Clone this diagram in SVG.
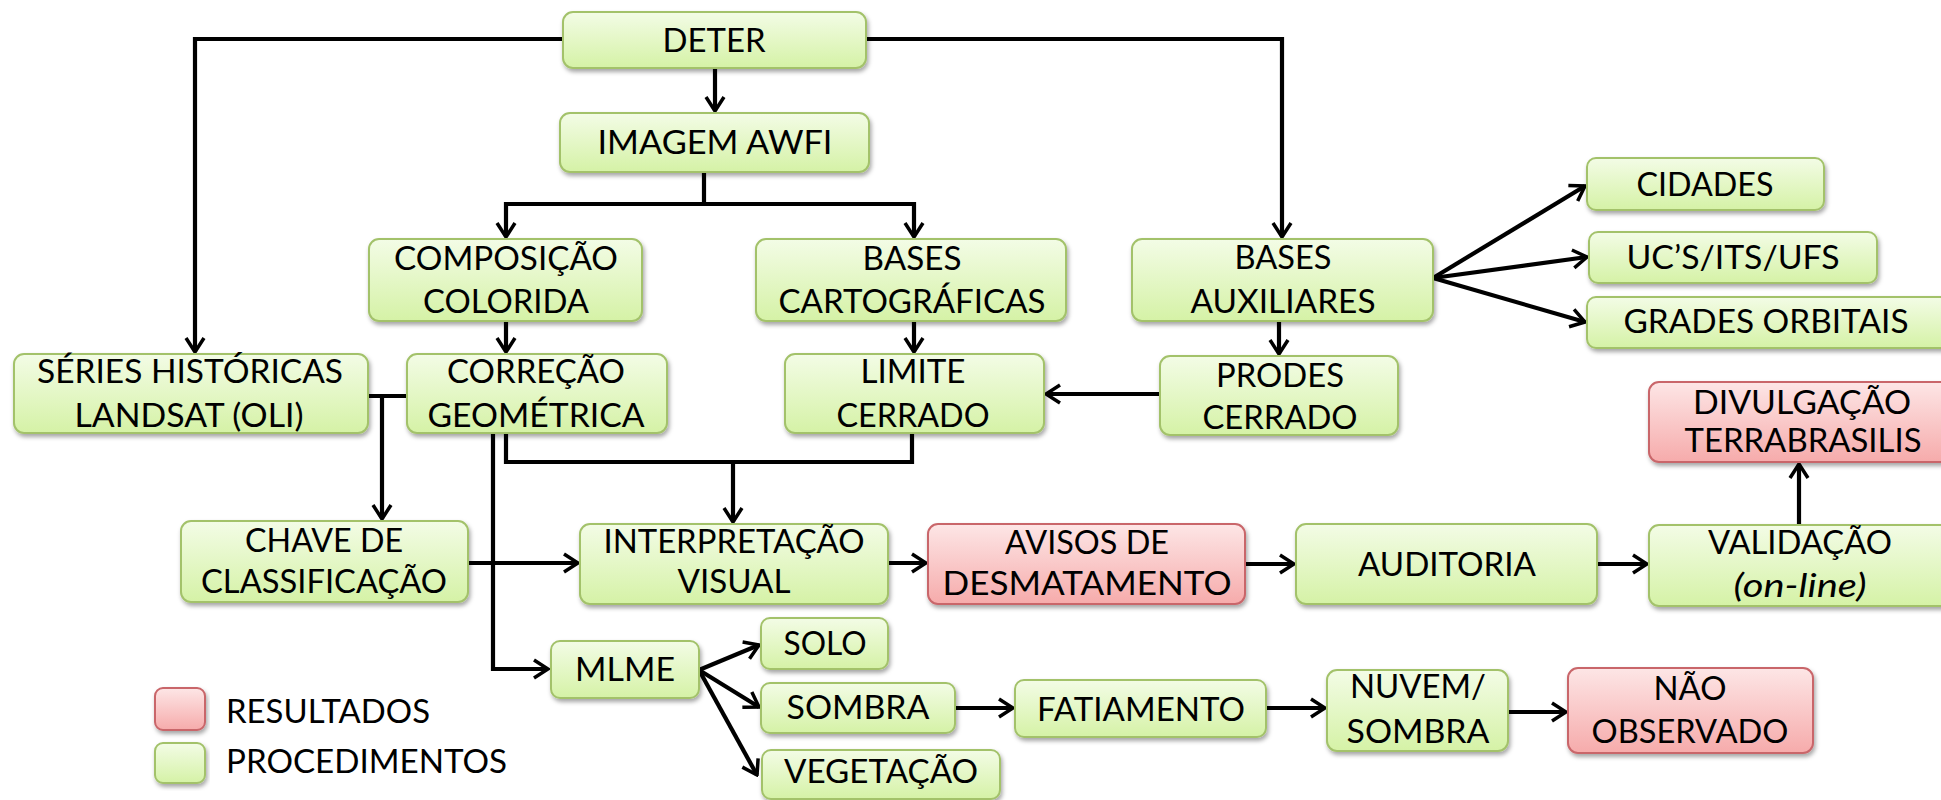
<svg xmlns="http://www.w3.org/2000/svg" width="1941" height="800" viewBox="0 0 1941 800">
<style>
.g{fill:url(#gg);stroke:#a3c26b;stroke-width:2;filter:url(#sh)}
.r{fill:url(#rg);stroke:#c9666a;stroke-width:2;filter:url(#sh)}
text{font-family:Lato,"Open Sans","Liberation Sans",sans-serif;font-size:32px;fill:#000;text-anchor:middle}
.l{text-anchor:start}
.c path{fill:none;stroke:#000;stroke-width:4.2;marker-end:url(#a)}
.c path.n{marker-end:none}
</style>
<defs>
<linearGradient id="gg" x1="0" y1="0" x2="0" y2="1"><stop offset="0" stop-color="#f3fce6"/><stop offset="1" stop-color="#d5f2a6"/></linearGradient>
<linearGradient id="rg" x1="0" y1="0" x2="0" y2="1"><stop offset="0" stop-color="#fde6e6"/><stop offset="1" stop-color="#f6abab"/></linearGradient>
<filter id="sh" x="-10%" y="-10%" width="120%" height="130%"><feDropShadow dx="1.5" dy="3" stdDeviation="2" flood-color="#000" flood-opacity="0.35"/></filter>
<marker id="a" viewBox="-17 -12 19 24" markerWidth="19" markerHeight="24" refX="0" refY="0" orient="auto" markerUnits="userSpaceOnUse"><path d="M-14,-9 L0,0 L-14,9" fill="none" stroke="#000" stroke-width="3.5"/></marker>
</defs>
<g id="connectors" class="c">
<path d="M563,39 H195 V352"/>
<path d="M866,39 H1282 V237"/>
<path d="M715,68 V111"/>
<path d="M704,172 V204 H506 V237"/>
<path d="M704,204 H914 V237"/>
<path d="M506,321 V352"/>
<path d="M914,321 V352"/>
<path d="M1279,321 V354"/>
<path d="M1160,394 H1046"/>
<path d="M1433,278 L1585,186"/>
<path d="M1433,278 L1587,257"/>
<path d="M1433,278 L1585,322"/>
<path class="n" d="M368,396 H407"/>
<path d="M382,396 V519"/>
<path d="M493,433 V669 H548"/>
<path class="n" d="M506,433 V462 H912 V433"/>
<path d="M733,462 V522"/>
<path d="M468,563 H578"/>
<path d="M888,563 H926"/>
<path d="M1245,564 H1294"/>
<path d="M1597,564 H1647"/>
<path d="M1799,525 V464"/>
<path d="M699,670 L759,645"/>
<path d="M699,670 L759,707"/>
<path d="M699,670 L757,775"/>
<path d="M955,708 H1013"/>
<path d="M1266,708 H1325"/>
<path d="M1508,712 H1566"/>
</g>
<g id="deter"><rect class="g" x="563" y="12" width="303" height="56" rx="10"/><text x="714" y="52" textLength="103" lengthAdjust="spacingAndGlyphs">DETER</text></g>
<g id="imagem"><rect class="g" x="560" y="113" width="309" height="59" rx="10"/><text x="715" y="154" textLength="235" lengthAdjust="spacingAndGlyphs">IMAGEM AWFI</text></g>
<g id="composicao"><rect class="g" x="369" y="239" width="273" height="82" rx="10"/><text x="506" y="270" textLength="224" lengthAdjust="spacingAndGlyphs">COMPOSIÇÃO</text><text x="506" y="313" textLength="166" lengthAdjust="spacingAndGlyphs">COLORIDA</text></g>
<g id="bases-cart"><rect class="g" x="756" y="239" width="310" height="82" rx="10"/><text x="912" y="270" textLength="99" lengthAdjust="spacingAndGlyphs">BASES</text><text x="912" y="313" textLength="267" lengthAdjust="spacingAndGlyphs">CARTOGRÁFICAS</text></g>
<g id="bases-aux"><rect class="g" x="1132" y="239" width="301" height="82" rx="10"/><text x="1283" y="269" textLength="97" lengthAdjust="spacingAndGlyphs">BASES</text><text x="1283" y="313" textLength="185" lengthAdjust="spacingAndGlyphs">AUXILIARES</text></g>
<g id="cidades"><rect class="g" x="1587" y="158" width="237" height="52" rx="9"/><text x="1705" y="196" textLength="137" lengthAdjust="spacingAndGlyphs">CIDADES</text></g>
<g id="ucs"><rect class="g" x="1589" y="232" width="288" height="51" rx="9"/><text x="1733" y="269" textLength="213" lengthAdjust="spacingAndGlyphs">UC’S/ITS/UFS</text></g>
<g id="grades"><rect class="g" x="1587" y="297" width="370" height="51" rx="9"/><text x="1766" y="333" textLength="285" lengthAdjust="spacingAndGlyphs">GRADES ORBITAIS</text></g>
<g id="series"><rect class="g" x="14" y="354" width="354" height="79" rx="10"/><text x="190" y="383" textLength="306" lengthAdjust="spacingAndGlyphs">SÉRIES HISTÓRICAS</text><text x="189" y="427" textLength="229" lengthAdjust="spacingAndGlyphs">LANDSAT (OLI)</text></g>
<g id="correcao"><rect class="g" x="407" y="354" width="260" height="79" rx="10"/><text x="536" y="383" textLength="178" lengthAdjust="spacingAndGlyphs">CORREÇÃO</text><text x="536" y="427" textLength="217" lengthAdjust="spacingAndGlyphs">GEOMÉTRICA</text></g>
<g id="limite"><rect class="g" x="785" y="354" width="259" height="79" rx="10"/><text x="913" y="383" textLength="105" lengthAdjust="spacingAndGlyphs">LIMITE</text><text x="913" y="427" textLength="153" lengthAdjust="spacingAndGlyphs">CERRADO</text></g>
<g id="prodes"><rect class="g" x="1160" y="356" width="238" height="79" rx="10"/><text x="1280" y="387" textLength="128" lengthAdjust="spacingAndGlyphs">PRODES</text><text x="1280" y="429" textLength="155" lengthAdjust="spacingAndGlyphs">CERRADO</text></g>
<g id="divulgacao"><rect class="r" x="1649" y="382" width="310" height="80" rx="10"/><text x="1802" y="414" textLength="218" lengthAdjust="spacingAndGlyphs">DIVULGAÇÃO</text><text x="1803" y="452" textLength="237" lengthAdjust="spacingAndGlyphs">TERRABRASILIS</text></g>
<g id="chave"><rect class="g" x="181" y="521" width="287" height="81" rx="10"/><text x="324" y="552" textLength="158" lengthAdjust="spacingAndGlyphs">CHAVE DE</text><text x="324" y="593" textLength="246" lengthAdjust="spacingAndGlyphs">CLASSIFICAÇÃO</text></g>
<g id="interpretacao"><rect class="g" x="580" y="524" width="308" height="80" rx="10"/><text x="734" y="553" textLength="261" lengthAdjust="spacingAndGlyphs">INTERPRETAÇÃO</text><text x="734" y="593" textLength="113" lengthAdjust="spacingAndGlyphs">VISUAL</text></g>
<g id="avisos"><rect class="r" x="928" y="524" width="317" height="80" rx="10"/><text x="1087" y="554" textLength="164" lengthAdjust="spacingAndGlyphs">AVISOS DE</text><text x="1087" y="595" textLength="289" lengthAdjust="spacingAndGlyphs">DESMATAMENTO</text></g>
<g id="auditoria"><rect class="g" x="1296" y="524" width="301" height="80" rx="10"/><text x="1447" y="576" textLength="178" lengthAdjust="spacingAndGlyphs">AUDITORIA</text></g>
<g id="validacao"><rect class="g" x="1649" y="525" width="310" height="81" rx="10"/><text x="1800" y="554" textLength="184" lengthAdjust="spacingAndGlyphs">VALIDAÇÃO</text><text x="1800" y="597" font-style="italic" textLength="133" lengthAdjust="spacingAndGlyphs">(on-line)</text></g>
<g id="mlme"><rect class="g" x="551" y="641" width="148" height="57" rx="9"/><text x="625" y="681" textLength="100" lengthAdjust="spacingAndGlyphs">MLME</text></g>
<g id="solo"><rect class="g" x="761" y="618" width="127" height="51" rx="9"/><text x="825" y="655" textLength="83" lengthAdjust="spacingAndGlyphs">SOLO</text></g>
<g id="sombra"><rect class="g" x="761" y="683" width="194" height="50" rx="9"/><text x="858" y="719" textLength="143" lengthAdjust="spacingAndGlyphs">SOMBRA</text></g>
<g id="vegetacao"><rect class="g" x="762" y="750" width="238" height="49" rx="9"/><text x="881" y="783" textLength="194" lengthAdjust="spacingAndGlyphs">VEGETAÇÃO</text></g>
<g id="fatiamento"><rect class="g" x="1015" y="680" width="251" height="57" rx="9"/><text x="1141" y="721" textLength="208" lengthAdjust="spacingAndGlyphs">FATIAMENTO</text></g>
<g id="nuvem"><rect class="g" x="1327" y="670" width="181" height="81" rx="10"/><text x="1418" y="698" textLength="136" lengthAdjust="spacingAndGlyphs">NUVEM/</text><text x="1418" y="743" textLength="143" lengthAdjust="spacingAndGlyphs">SOMBRA</text></g>
<g id="nao-observado"><rect class="r" x="1568" y="668" width="245" height="85" rx="10"/><text x="1690" y="700" textLength="73" lengthAdjust="spacingAndGlyphs">NÃO</text><text x="1690" y="743" textLength="197" lengthAdjust="spacingAndGlyphs">OBSERVADO</text></g>
<g id="legend">
<rect class="r" x="155" y="688" width="50" height="42" rx="8"/>
<rect class="g" x="155" y="743" width="50" height="40" rx="8"/>
<text class="l" x="226" y="723" textLength="204" lengthAdjust="spacingAndGlyphs">RESULTADOS</text>
<text class="l" x="226" y="773" textLength="281" lengthAdjust="spacingAndGlyphs">PROCEDIMENTOS</text>
</g>
</svg>
